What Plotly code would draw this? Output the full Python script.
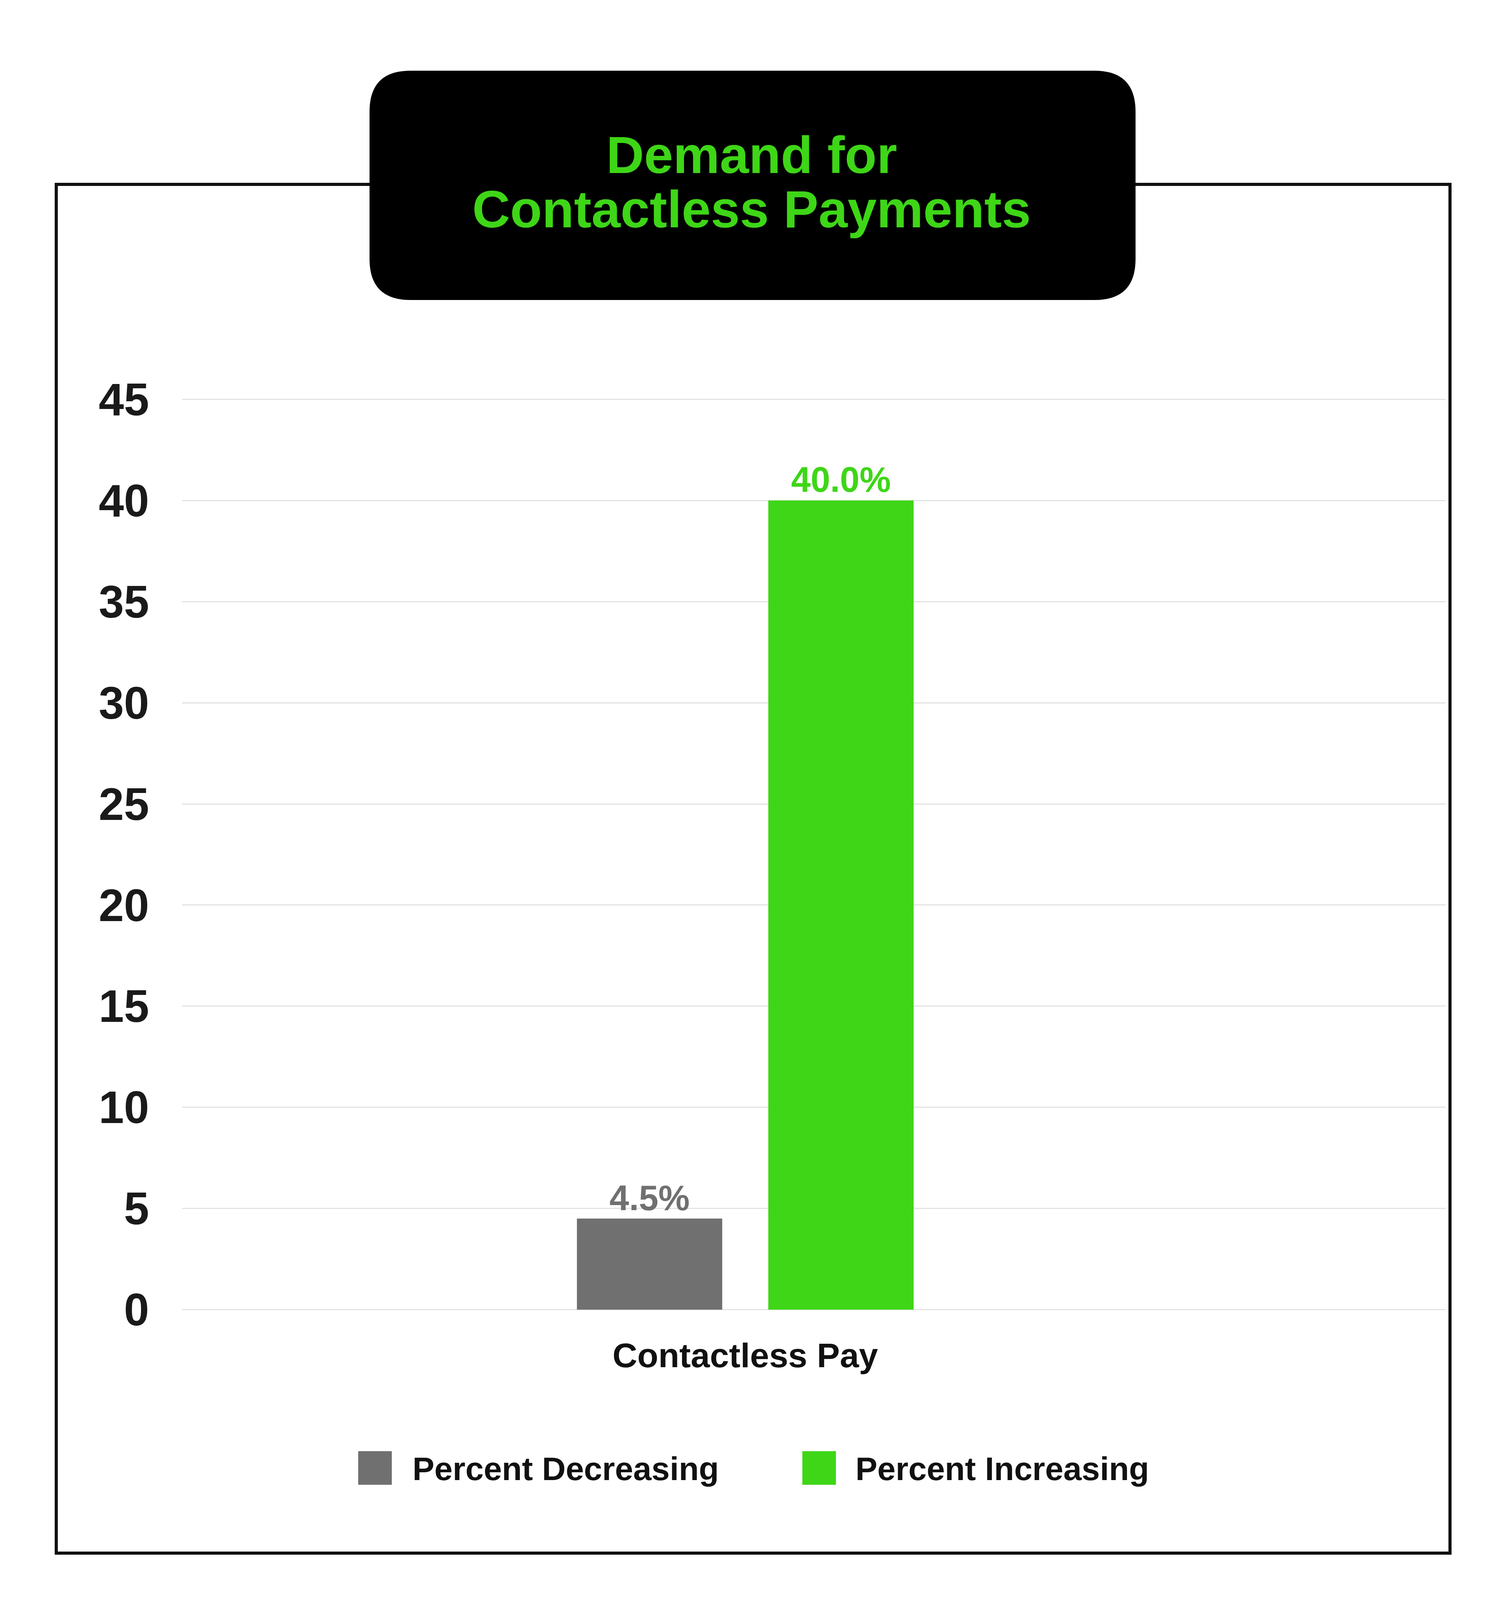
import plotly.graph_objects as go

# chart data
categories = ["Contactless Pay"]
series_names = ["Percent Decreasing", "Percent Increasing"]
decreasing = [4.5]
increasing = [40.0]
y_ticks = [0, 5, 10, 15, 20, 25, 30, 35, 40, 45]
title_lines = ["Demand for", "Contactless Payments"]

GREEN = "#3ed617"
GRAY = "#707070"
FONT = "Liberation Sans, Arial, sans-serif"

# page size and plot area in pixels
W, H = 3840, 4109
L, R, T, B = 458, 147, 1004, 754
pw = W - L - R
ph = H - T - B


def px(x):
    return (x - L) / pw


def py(y):
    return (H - B - y) / ph


def rounded_box(x0, y0, x1, y1, r):
    # pixel box -> paper path with rounded corners
    a, b, c, d = px(x0), py(y1), px(x1), py(y0)
    rx, ry = r / pw, r / ph
    return (f"M {a + rx},{d} L {c - rx},{d} Q {c},{d} {c},{d - ry} "
            f"L {c},{b + ry} Q {c},{b} {c - rx},{b} "
            f"L {a + rx},{b} Q {a},{b} {a},{b + ry} "
            f"L {a},{d - ry} Q {a},{d} {a + rx},{d} Z")


fig = go.Figure()
for vals, name, color in [(decreasing, series_names[0], GRAY),
                          (increasing, series_names[1], GREEN)]:
    fig.add_trace(go.Bar(
        x=categories,
        y=vals,
        name=name,
        marker=dict(color=color, line=dict(width=0)),
        text=[f"{v:.1f}%" for v in vals],
        textposition="outside",
        constraintext="none",
        cliponaxis=False,
        textfont=dict(family=FONT, size=90, color=color, weight="bold"),
        showlegend=False,
    ))

shapes = [
    # outer frame
    dict(type="rect", xref="paper", yref="paper",
         x0=px(136), x1=px(3704), y0=py(3968), y1=py(464),
         line=dict(color="#111111", width=8)),
    # black title box
    dict(type="path", xref="paper", yref="paper",
         path=rounded_box(938, 173, 2899, 760, 105),
         fillcolor="black", line=dict(color="black", width=0)),
]

annotations = [
    dict(text=title_lines[0], xref="paper", yref="paper", x=px(1916), y=py(388),
         showarrow=False, xanchor="center", yanchor="middle",
         font=dict(family=FONT, size=134, color=GREEN, weight="bold")),
    dict(text=title_lines[1], xref="paper", yref="paper", x=px(1916), y=py(527),
         showarrow=False, xanchor="center", yanchor="middle",
         font=dict(family=FONT, size=134, color=GREEN, weight="bold")),
]

# legend drawn by hand so the swatches can be large
legend_pos = [(909, 1046), (2046, 2180)]
for (sx, tx), name, color in zip(legend_pos, series_names, [GRAY, GREEN]):
    shapes.append(dict(type="rect", xref="paper", yref="paper",
                       x0=px(sx), x1=px(sx + 86), y0=py(3793), y1=py(3707),
                       fillcolor=color, line=dict(width=0)))
    annotations.append(dict(text=name, xref="paper", yref="paper",
                            x=px(tx), y=py(3752), showarrow=False,
                            xanchor="left", yanchor="middle",
                            font=dict(family=FONT, size=84, color="#111111",
                                      weight="bold")))

fig.update_layout(
    width=W,
    height=H,
    margin=dict(l=L, r=R, t=T, b=B, autoexpand=False),
    paper_bgcolor="white",
    plot_bgcolor="white",
    barmode="group",
    bargap=0.6602,
    bargroupgap=0.2407,
    shapes=shapes,
    annotations=annotations,
    showlegend=False,
    xaxis=dict(
        range=[-0.5, 0.6218],
        showgrid=False,
        showline=False,
        ticks="outside",
        ticklen=30,
        tickcolor="rgba(0,0,0,0)",
        tickfont=dict(family=FONT, size=88, color="#111111", weight="bold"),
    ),
    yaxis=dict(
        range=[-0.2, 45.2],
        tickvals=y_ticks,
        showgrid=True,
        gridcolor="#e3e3e3",
        gridwidth=3,
        zeroline=False,
        showline=False,
        ticks="outside",
        ticklen=60,
        tickcolor="rgba(0,0,0,0)",
        tickfont=dict(family=FONT, size=116, color="#1a1a1a", weight="bold"),
    ),
)

fig.write_html("out.html")
